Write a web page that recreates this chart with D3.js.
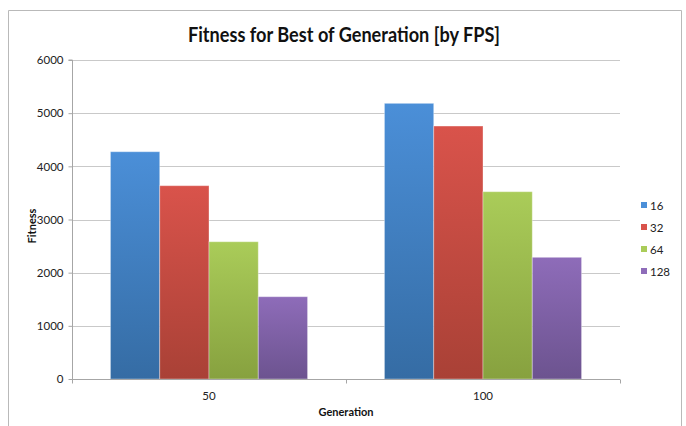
<!DOCTYPE html>
<html>
<head>
<meta charset="utf-8">
<script src="https://cdn.jsdelivr.net/npm/d3@7"></script>
<style>
  html, body { margin: 0; padding: 0; background: #fff; }
  svg { display: block; }
</style>
</head>
<body>
<svg id="chart" width="686" height="426"></svg>
<script>
// ---- data ----
const categories = ["50", "100"];
const seriesNames = ["16", "32", "64", "128"];
const values16  = [4275, 5185];
const values32  = [3636, 4758];
const values64  = [2582, 3523];
const values128 = [1548, 2289];
const yTicks = [0, 1000, 2000, 3000, 4000, 5000, 6000];
const titleText = "Fitness for Best of Generation [by FPS]";
const xTitle = "Generation";
const yTitle = "Fitness";

(function () {
const seriesValues = [values16, values32, values64, values128];
const colorsTop = ["#4b8fd8", "#d9534b", "#aacc59", "#8e6cb9"];
const colorsBot = ["#356ca4", "#a94136", "#87a13f", "#6c538f"];

const svg = d3.select("#chart");
const font = "Lato, 'Open Sans', sans-serif";

// outer border
svg.append("path")
  .attr("d", "M8.5,430 V10.5 H681.5 V430")
  .attr("fill", "none").attr("stroke", "#b9b9b9").attr("stroke-width", 1);

const pLeft = 72, pRight = 620, pTop = 60, pBottom = 379;

const y = d3.scaleLinear().domain([0, 6000]).range([pBottom, pTop]);
const x0 = d3.scaleBand().domain(categories).range([pLeft, pRight]).paddingInner(0).paddingOuter(0);
const x1 = d3.scaleBand().domain(seriesNames).range([0, x0.bandwidth()]).paddingInner(0).paddingOuter(0.78);

// gradients
const defs = svg.append("defs");
seriesNames.forEach((s, i) => {
  const g = defs.append("linearGradient").attr("id", "g" + i)
    .attr("x1", 0).attr("y1", 0).attr("x2", 0).attr("y2", 1);
  g.append("stop").attr("offset", "0%").attr("stop-color", colorsTop[i]);
  g.append("stop").attr("offset", "100%").attr("stop-color", colorsBot[i]);
});

// gridlines
svg.append("g").selectAll("line").data(yTicks.filter(d => d > 0)).join("line")
  .attr("x1", pLeft).attr("x2", pRight)
  .attr("y1", d => Math.round(y(d)) + 0.5).attr("y2", d => Math.round(y(d)) + 0.5)
  .attr("stroke", "#c9c9c9").attr("stroke-width", 1);

// y axis
const yAxis = d3.axisLeft(y).tickValues(yTicks).tickSize(4).tickPadding(5).tickFormat(d3.format("d"));
const gy = svg.append("g").attr("transform", `translate(${pLeft + 0.5},0)`).call(yAxis);
gy.select(".domain").attr("stroke", "#a6a6a6").attr("d", `M-4,${pTop}H0V${pBottom}`);
gy.selectAll(".tick line").attr("stroke", "#a6a6a6");
gy.selectAll(".tick text").attr("font-family", font).attr("font-size", 11.5).attr("fill", "#222");

// bars
const gBars = svg.append("g");
categories.forEach((c, ci) => {
  seriesNames.forEach((s, si) => {
    const v = seriesValues[si][ci];
    gBars.append("rect")
      .attr("x", x0(c) + x1(s))
      .attr("y", y(v))
      .attr("width", x1.bandwidth())
      .attr("height", y(0) - y(v))
      .attr("fill", `url(#g${si})`)
      .attr("stroke", "rgba(255,255,255,0.35)")
      .attr("stroke-width", 1);
  });
});

// x axis
const xAxis = d3.axisBottom(x0).tickSize(0).tickPadding(12);
const gx = svg.append("g").attr("transform", `translate(0,${pBottom + 0.5})`).call(xAxis);
gx.select(".domain").attr("stroke", "#a6a6a6").attr("d", `M${pLeft},0H${pRight}`);
gx.selectAll(".tick text").attr("font-family", font).attr("font-size", 11.5).attr("fill", "#222");
const bounds = [pLeft, x0(categories[1]), pRight];
gx.selectAll(".bound").data(bounds).join("line").attr("class", "bound")
  .attr("x1", d => d + 0.5).attr("x2", d => d + 0.5).attr("y1", 0).attr("y2", 4)
  .attr("stroke", "#a6a6a6");

// title
svg.append("text").attr("x", 344).attr("y", 42).attr("text-anchor", "middle")
  .attr("font-family", font).attr("font-weight", "bold").attr("font-size", 20)
  .attr("fill", "#111").attr("textLength", 312).attr("lengthAdjust", "spacingAndGlyphs")
  .text(titleText);

// axis titles
svg.append("text").attr("x", 346).attr("y", 416).attr("text-anchor", "middle")
  .attr("font-family", font).attr("font-weight", "bold").attr("font-size", 11)
  .attr("fill", "#111").text(xTitle);
svg.append("text").attr("transform", "translate(36,226) rotate(-90)").attr("text-anchor", "middle")
  .attr("font-family", font).attr("font-weight", "bold").attr("font-size", 11)
  .attr("fill", "#111").text(yTitle);

// legend
const legend = svg.append("g").attr("transform", "translate(641,206)");
seriesNames.forEach((s, i) => {
  const row = legend.append("g").attr("transform", `translate(0,${i * 22})`);
  row.append("rect").attr("x", 0).attr("y", -4).attr("width", 6).attr("height", 6)
    .attr("fill", colorsTop[i]);
  row.append("text").attr("x", 9).attr("y", 4).attr("font-family", font).attr("font-size", 11.5)
    .attr("fill", "#222").text(s);
});
})();
</script>
</body>
</html>
